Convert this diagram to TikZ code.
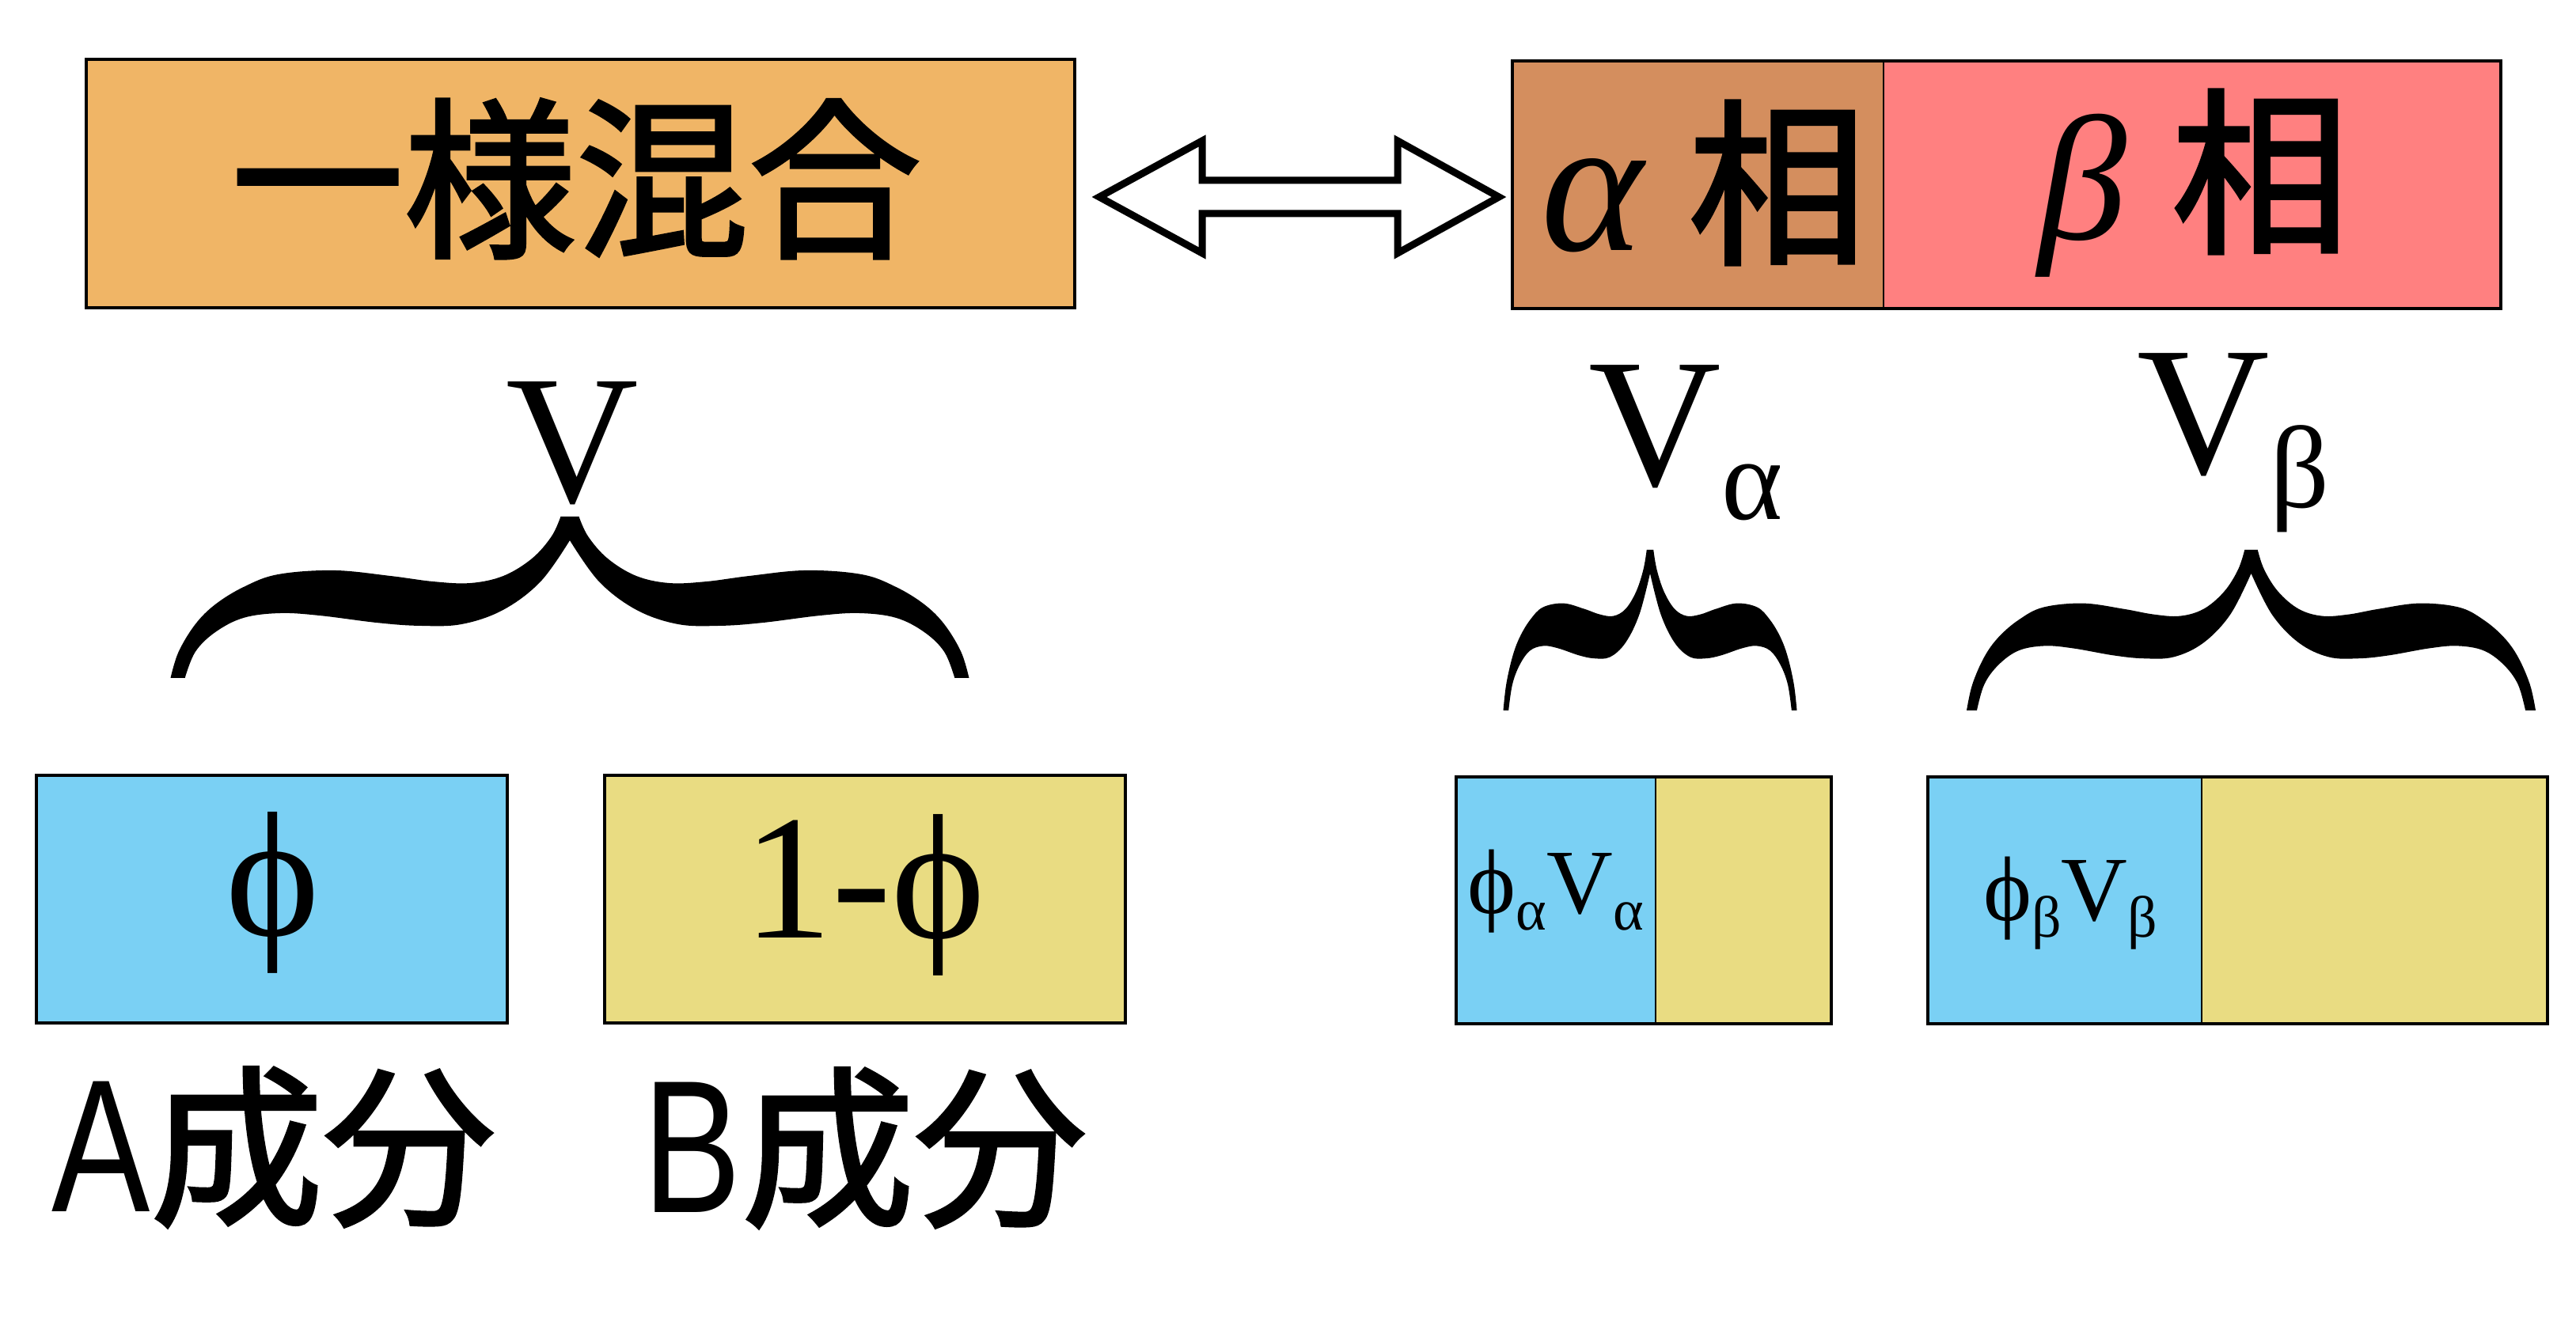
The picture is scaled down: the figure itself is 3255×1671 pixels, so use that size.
\documentclass[tikz,border=0pt]{standalone}
\usepackage{fontspec}
\setmainfont{Liberation Serif}
\newfontfamily\cjk[FakeBold=2]{Noto Sans CJK JP}
\newfontfamily\lsans{Liberation Sans}
\definecolor{mixorange}{HTML}{F0B566}
\definecolor{alphabrown}{HTML}{D48E5E}
\definecolor{betasalmon}{HTML}{FF8080}
\definecolor{compblue}{HTML}{7AD0F4}
\definecolor{compyellow}{HTML}{E9DC82}
\newcommand\mybrace[4]{%
  \fill[shift={(#1,#2)}, xscale=#3, yscale=-#4]
    plot[smooth,tension=0.6] coordinates {(-1,0) (-0.980,0.162) (-0.938,0.333) (-0.888,0.456) (-0.817,0.564) (-0.731,0.642) (-0.591,0.667) (-0.448,0.632) (-0.343,0.598) (-0.250,0.588) (-0.167,0.632) (-0.095,0.740) (-0.046,0.877) (-0.023,1)}
    -- plot[smooth,tension=0.6] coordinates {(0.023,1) (0.046,0.877) (0.095,0.740) (0.167,0.632) (0.250,0.588) (0.343,0.598) (0.448,0.632) (0.591,0.667) (0.731,0.642) (0.817,0.564) (0.888,0.456) (0.938,0.333) (0.980,0.162) (1,0)}
    -- plot[smooth,tension=0.6] coordinates {(0.964,0) (0.938,0.162) (0.888,0.284) (0.817,0.373) (0.725,0.402) (0.626,0.387) (0.484,0.343) (0.379,0.324) (0.272,0.333) (0.167,0.422) (0.073,0.598) (0,0.853)}
    -- plot[smooth,tension=0.6] coordinates {(0,0.853) (-0.073,0.598) (-0.167,0.422) (-0.272,0.333) (-0.379,0.324) (-0.484,0.343) (-0.626,0.387) (-0.725,0.402) (-0.817,0.373) (-0.888,0.284) (-0.938,0.162) (-0.964,0)}
    -- cycle;}
\begin{document}
\begin{tikzpicture}[x=0.1mm,y=-0.1mm,
  part/.style={draw=black, line width=0.2mm, inner sep=0pt, outer sep=0pt},
  outline/.style={draw=black, line width=0.4mm},
  cjkbig/.style={font=\fontsize{62pt}{70pt}\selectfont\cjk, inner sep=0pt},
  serifbig/.style={font=\fontsize{64pt}{70pt}\selectfont, inner sep=0pt},
  vlabel/.style={font=\fontsize{66pt}{70pt}\selectfont, inner sep=0pt},
  smalllabel/.style={font=\fontsize{33pt}{36pt}\selectfont, inner sep=0pt}]
\useasboundingbox (0,0) rectangle (3255,1671);
\fill[white] (0,0) rectangle (3255,1671);

% top boxes
\node[part, fill=mixorange, minimum width=124.9mm, minimum height=31.4mm] (mix) at (733.5,232) {};
\draw[outline] (mix.north west) rectangle (mix.south east);
\node[part, fill=alphabrown, minimum width=46.9mm, minimum height=31.3mm] (alpha) at (2145.5,233.5) {};
\node[part, fill=betasalmon, minimum width=78mm, minimum height=31.3mm] (beta) at (2770,233.5) {};
\draw[outline] (alpha.north west) rectangle (beta.south east);

\node[cjkbig] (mixtext) at (728,226) {一様混合};
\node[serifbig] (alphatext) at (2153,231) {{\fontsize{70pt}{70pt}\selectfont\itshape α} {\cjk 相}};
\node[serifbig] (betatext) at (2772,232) {{\itshape β} {\cjk 相}};

% double arrow
\draw[line width=0.9mm, fill=white, line join=miter]
  (1389,249) -- (1519,178) -- (1519,228) -- (1766,228) -- (1766,178) -- (1894,249)
  -- (1766,320) -- (1766,270) -- (1519,270) -- (1519,320) -- cycle;

% volume labels
\node[vlabel] (V) at (723,560) {V};
\node[vlabel] (Va) at (2130,560) {V\raisebox{-0.185em}{\fontsize{42pt}{44pt}\selectfont α}};
\node[vlabel] (Vb) at (2822,560) {V\raisebox{-0.185em}{\fontsize{42pt}{44pt}\selectfont β}};

% braces
\mybrace{720}{857}{504.5}{204}
\mybrace{2085}{898}{185.5}{203}
\mybrace{2844.5}{898}{359.5}{203}

% bottom boxes
\node[part, fill=compblue, minimum width=59.5mm, minimum height=31.3mm] (phiA) at (343.5,1136.5) {};
\draw[outline] (phiA.north west) rectangle (phiA.south east);
\node[part, fill=compyellow, minimum width=65.8mm, minimum height=31.3mm] (phiB) at (1093,1136.5) {};
\draw[outline] (phiB.north west) rectangle (phiB.south east);

\node[part, fill=compblue, minimum width=25.2mm, minimum height=31.2mm] (aA) at (1966,1138) {};
\node[part, fill=compyellow, minimum width=22.2mm, minimum height=31.2mm] (aB) at (2203,1138) {};
\draw[outline] (aA.north west) rectangle (aB.south east);
\node[part, fill=compblue, minimum width=34.6mm, minimum height=31.2mm] (bA) at (2609,1138) {};
\node[part, fill=compyellow, minimum width=43.7mm, minimum height=31.2mm] (bB) at (3000.5,1138) {};
\draw[outline] (bA.north west) rectangle (bB.south east);

\node[serifbig] (phitext) at (345,1128) {ϕ};
\node[serifbig] (onephitext) at (1092,1131) {1-ϕ};
\node[smalllabel] (aAtext) at (1966,1127) {ϕ\raisebox{-0.18em}{\fontsize{21pt}{24pt}\selectfont α}V\raisebox{-0.18em}{\fontsize{21pt}{24pt}\selectfont α}};
\node[smalllabel] (bAtext) at (2616,1142) {ϕ\raisebox{-0.18em}{\fontsize{21pt}{24pt}\selectfont β}V\raisebox{-0.18em}{\fontsize{21pt}{24pt}\selectfont β}};

% component labels
\node[cjkbig] (Alabel) at (346,1450) {\scalebox{0.78}[1]{\lsans\fontsize{68pt}{70pt}\selectfont A}成分};
\node[cjkbig] (Blabel) at (1093,1451) {\scalebox{0.78}[1]{\lsans\fontsize{68pt}{70pt}\selectfont B}成分};
\end{tikzpicture}
\end{document}
